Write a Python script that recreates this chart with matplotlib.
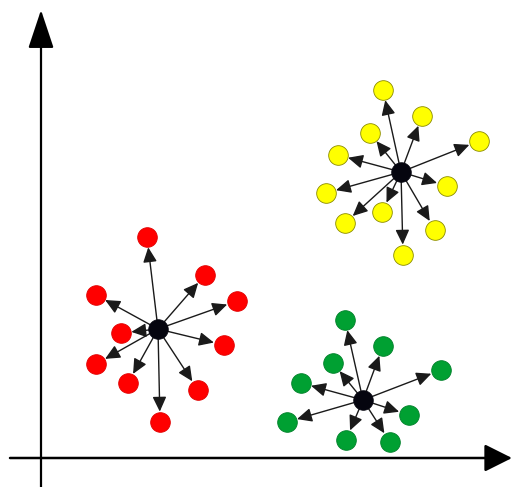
import matplotlib
matplotlib.use("Agg")
import matplotlib.pyplot as plt
from matplotlib.patches import FancyArrowPatch

# Cluster centroids and member points (x, y) in plot units
red_center = (117, 129)
red_x = [106, 164, 55, 196, 80, 183, 55, 87, 157, 119]
red_y = [221, 183, 163, 157, 125, 113, 94, 75, 68, 36]

yellow_center = (360, 286)
yellow_x = [342, 381, 329, 438, 297, 285, 406, 341, 304, 394, 362]
yellow_y = [368, 342, 325, 317, 303, 265, 272, 246, 235, 228, 203]

green_center = (322, 58)
green_x = [304, 342, 292, 400, 260, 246, 368, 305, 349]
green_y = [138, 112, 95, 88, 75, 36, 43, 18, 16]

fig = plt.figure(figsize=(5.15, 4.87), dpi=100)
ax = fig.add_axes([0, 0, 1, 1])
ax.set_xlim(-41, 474)
ax.set_ylim(-29, 458)
ax.axis("off")

# Coordinate axes with large triangular heads
ax.add_patch(FancyArrowPatch((0, -29), (0, 448), arrowstyle="-|>,head_length=24,head_width=8",
                             mutation_scale=1, color="black", lw=1.6, shrinkA=0, shrinkB=0,
                             zorder=1))
ax.add_patch(FancyArrowPatch((-31, 0), (471, 0), arrowstyle="-|>,head_length=17,head_width=8.5",
                             mutation_scale=1, color="black", lw=1.8, shrinkA=0, shrinkB=0,
                             zorder=1))

clusters = [
    (red_center, red_x, red_y, "#ff0000", "#e00000"),
    (yellow_center, yellow_x, yellow_y, "#ffff00", "#8a8a00"),
    (green_center, green_x, green_y, "#00a032", "#00802a"),
]

for center, xs, ys, face, edge in clusters:
    for x, y in zip(xs, ys):
        ax.add_patch(FancyArrowPatch(center, (x, y),
                                     arrowstyle="-|>,head_length=9,head_width=4.2",
                                     mutation_scale=1, color="#1a1a1a", lw=1.0,
                                     shrinkA=0, shrinkB=7.5, zorder=2))
    ax.scatter(xs, ys, s=200, c=face, edgecolors=edge, linewidths=0.6, zorder=3)
    ax.scatter([center[0]], [center[1]], s=200, c="#05050f", edgecolors="#05050f",
               linewidths=0.5, zorder=4)

fig.savefig("out.png", dpi=100, facecolor="white")
